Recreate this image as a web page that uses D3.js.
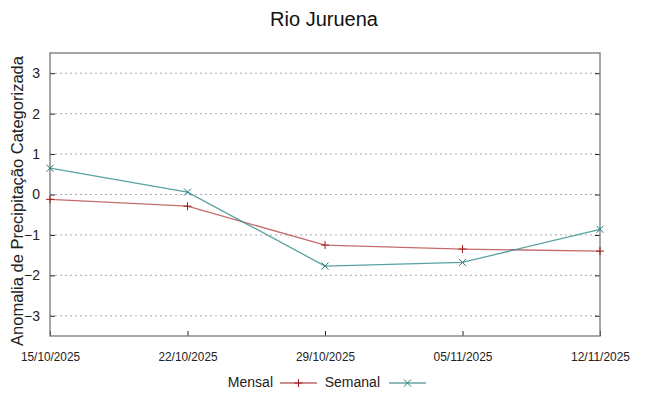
<!DOCTYPE html>
<html><head><meta charset="utf-8">
<script src="https://cdn.jsdelivr.net/npm/d3@7"></script>
<style>body{margin:0;background:#fff}svg{font-family:"Liberation Sans",Arial,sans-serif}</style>
</head><body><svg id="c" width="648" height="396"></svg>
<script>
const dates = ["15/10/2025","22/10/2025","29/10/2025","05/11/2025","12/11/2025"];
const mensal = [-0.12, -0.29, -1.25, -1.35, -1.40];
const semanal = [0.65, 0.06, -1.77, -1.68, -0.86];
const yTicks = [-3,-2,-1,0,1,2,3];

const svg = d3.select("#c");
const L=50,R=600,T=53,B=336;
const x = d3.scalePoint().domain(dates).range([L,R]);
const y = d3.scaleLinear().domain([-3.5,3.5]).range([B,T]);

// grid
svg.append("g").selectAll("line").data(yTicks).join("line")
  .attr("x1",L).attr("x2",R).attr("y1",d=>y(d)).attr("y2",d=>y(d))
  .attr("stroke","#aaa").attr("stroke-width",1).attr("stroke-dasharray","2,3");

// axes
const ya = svg.append("g").attr("transform",`translate(${L},0)`)
  .call(d3.axisLeft(y).tickValues(yTicks).tickSize(-5).tickPadding(10).tickFormat(d3.format("d")));
ya.select(".domain").remove();
ya.selectAll("text").attr("font-size",14).attr("fill","#222");
ya.selectAll("line").attr("stroke","#222");
const yr = svg.append("g").attr("transform",`translate(${R},0)`)
  .call(d3.axisRight(y).tickValues(yTicks).tickSize(-5).tickFormat(""));
yr.select(".domain").remove();
yr.selectAll("line").attr("stroke","#222");

const xa = svg.append("g").attr("transform",`translate(0,${B})`)
  .call(d3.axisBottom(x).tickSize(-5).tickPadding(16));
xa.select(".domain").remove();
xa.selectAll("text").attr("font-size",12).attr("fill","#222").attr("textLength",59).attr("lengthAdjust","spacingAndGlyphs");
xa.selectAll("line").attr("stroke","#222");

svg.append("rect").attr("x",L).attr("y",T).attr("width",R-L).attr("height",B-T)
  .attr("fill","none").attr("stroke","#777").attr("stroke-width",1.3);

const line = d3.line().x((d,i)=>x(dates[i])).y(d=>y(d));
const cM="#b03a3a", cS="#2e8b8b";
svg.append("path").datum(mensal).attr("d",line).attr("fill","none").attr("stroke",cM).attr("stroke-opacity",0.75).attr("stroke-width",1.3);
svg.append("path").datum(semanal).attr("d",line).attr("fill","none").attr("stroke",cS).attr("stroke-opacity",0.8).attr("stroke-width",1.3);

function plus(g,cx,cy,c){g.append("path").attr("d",`M${cx-4},${cy}H${cx+4}M${cx},${cy-4}V${cy+4}`).attr("stroke",c).attr("stroke-width",1);}
function cross(g,cx,cy,c){g.append("path").attr("d",`M${cx-3.5},${cy-3.5}L${cx+3.5},${cy+3.5}M${cx-3.5},${cy+3.5}L${cx+3.5},${cy-3.5}`).attr("stroke",c).attr("stroke-width",1);}
const gm=svg.append("g"), gs=svg.append("g");
mensal.forEach((v,i)=>plus(gm,x(dates[i]),y(v),"#a01c1c"));
semanal.forEach((v,i)=>cross(gs,x(dates[i]),y(v),"#1f7a7a"));

// title
svg.append("text").attr("x",324).attr("y",26).attr("text-anchor","middle").attr("font-size",20).attr("fill","#111").text("Rio Juruena");
svg.append("text").attr("transform","translate(23,201) rotate(-90)").attr("text-anchor","middle").attr("font-size",16.5).attr("fill","#222").text("Anomalia de Precipitação Categorizada");

// legend
const lg=svg.append("g").attr("font-size",14).attr("fill","#222");
lg.append("text").attr("x",273).attr("y",387).attr("text-anchor","end").text("Mensal");
lg.append("line").attr("x1",280).attr("x2",317).attr("y1",383).attr("y2",383).attr("stroke","#a01c1c").attr("stroke-width",1.2);
plus(lg,298.5,383,"#a01c1c");
lg.append("text").attr("x",380).attr("y",387).attr("text-anchor","end").text("Semanal");
lg.append("line").attr("x1",389).attr("x2",426).attr("y1",383).attr("y2",383).attr("stroke","#1f7a7a").attr("stroke-width",1.2);
cross(lg,407.5,383,"#1f7a7a");
</script></body></html>
